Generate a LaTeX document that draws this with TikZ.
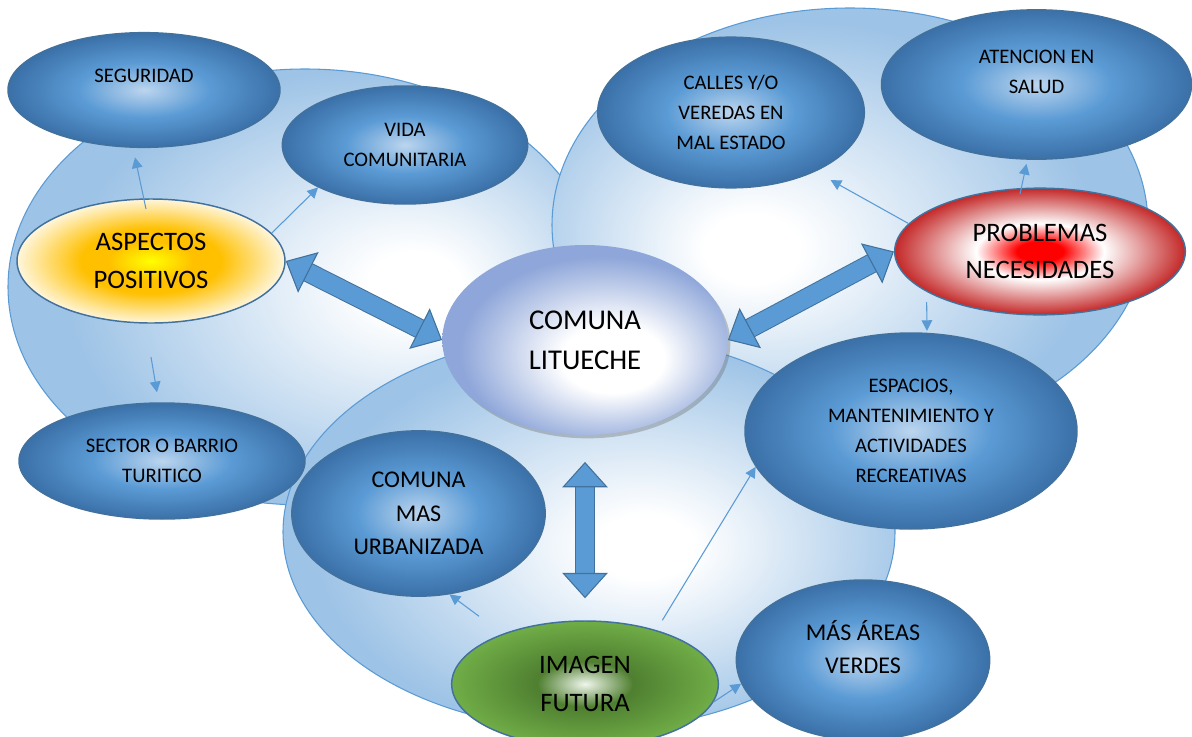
\documentclass[tikz,border=0pt]{standalone}
\usepackage{fontspec}
\setmainfont{Carlito}
\usepackage{tikz}
\usetikzlibrary{positioning, arrows.meta, shapes.geometric, shadows}

% Colores
\definecolor{cFondo}{HTML}{9DC3E6}
\definecolor{cBordeFondo}{HTML}{5B9BD5}
\definecolor{cAzul}{HTML}{5B9BD5}
\definecolor{cAzulClaro}{HTML}{BCD5EE}
\definecolor{cAzulOscuro}{HTML}{3B70A8}
\definecolor{cBorde}{HTML}{41719C}
\definecolor{cLila}{HTML}{8EA6D9}
\definecolor{cAmarillo}{HTML}{FFFF00}
\definecolor{cOro}{HTML}{FFC000}
\definecolor{cCrema}{HTML}{FFF6DC}
\definecolor{cRojo}{HTML}{FF0000}
\definecolor{cRojoBorde}{HTML}{C42828}
\definecolor{cVerde}{HTML}{70AD47}
\definecolor{cVerdeOsc}{HTML}{4F7F30}
\definecolor{cVerdeClaro}{HTML}{F0F6EC}

% Sombreados
\pgfdeclareradialshading{bolaazul}{\pgfpointorigin}{color(0bp)=(cAzulClaro); color(12bp)=(cAzul); color(25bp)=(cAzulOscuro); color(50bp)=(cAzulOscuro)}
\pgfdeclareradialshading{bolaamarilla}{\pgfpointorigin}{color(0bp)=(cAmarillo); color(8bp)=(cOro); color(13bp)=(cOro); color(25bp)=(cCrema); color(50bp)=(cCrema)}
\pgfdeclareradialshading{bolaroja}{\pgfpointorigin}{color(0bp)=(cRojo); color(4bp)=(cRojo); color(11bp)=(white); color(25bp)=(cRojoBorde); color(50bp)=(cRojoBorde)}
\pgfdeclareradialshading{bolaverde}{\pgfpointorigin}{color(0bp)=(cVerdeClaro); color(9bp)=(cVerdeOsc); color(25bp)=(cVerde); color(50bp)=(cVerde)}
\pgfdeclareradialshading{bolacomuna}{\pgfpoint{6bp}{-6bp}}{color(0bp)=(white); color(9bp)=(white); color(25bp)=(cLila); color(50bp)=(cLila)}
\pgfdeclareradialshading{fondoizq}{\pgfpoint{10bp}{0bp}}{color(0bp)=(white); color(4bp)=(white); color(25bp)=(cFondo); color(50bp)=(cFondo)}
\pgfdeclareradialshading{fondoder}{\pgfpoint{-9bp}{-3bp}}{color(0bp)=(white); color(4bp)=(white); color(25bp)=(cFondo); color(50bp)=(cFondo)}
\pgfdeclareradialshading{fondoinf}{\pgfpoint{5bp}{-2bp}}{color(0bp)=(white); color(4bp)=(white); color(25bp)=(cFondo); color(50bp)=(cFondo)}

\begin{document}
\begin{tikzpicture}[x=0.75pt, y=-0.75pt,
    fondo/.style={shade, draw=cBordeFondo, line width=0.8pt},
    burbuja/.style={ellipse, draw=cBorde, line width=1.1pt, shade, shading=bolaazul, align=center, inner sep=0pt, font=\fontsize{15.5}{22.5}\selectfont},
    medio/.style={font=\fontsize{18}{25}\selectfont},
    grande/.style={font=\fontsize{20}{28}\selectfont},
    flecha/.style={draw=cAzul, line width=0.8pt, -{Triangle[length=8pt, width=8pt]}},
    flechagrande/.style={draw=cAzul, line width=13.5pt,
        arrows={Triangle[length=19pt, width=34pt, fill=cAzul, color=cBorde, line width=0.8pt]-Triangle[length=19pt, width=34pt, fill=cAzul, color=cBorde, line width=0.8pt]},
        preaction={draw=cBorde, line width=15pt, arrows=-, shorten <=17pt, shorten >=17pt}}]

    \useasboundingbox (0,0) rectangle (1192,736);

    % Fondos
    \path[fondo, shading=fondoizq] (305,287) ellipse [x radius=297, y radius=218];
    \path[fondo, shading=fondoder] (850,225) ellipse [x radius=298, y radius=217];
    \path[fondo, shading=fondoinf] (589,532) ellipse [x radius=306, y radius=198];

    % Nodos
    \node[burbuja, minimum width=204pt, minimum height=86pt] (seg) at (144,90) {SEGURIDAD\\[-0.5pt]\mbox{}};
    \node[burbuja, minimum width=184pt, minimum height=88.5pt] (vida) at (405,145) {VIDA\\COMUNITARIA};
    \node[burbuja, grande, shading=bolaamarilla, minimum width=201pt, minimum height=93pt] (asp) at (151,261) {ASPECTOS\\POSITIVOS};
    \node[burbuja, minimum width=214.5pt, minimum height=87pt] (sector) at (162,461) {SECTOR O BARRIO\\TURITICO};
    \node[burbuja, minimum width=200pt, minimum height=113pt] (calles) at (731,112.5) {CALLES Y/O\\VEREDAS EN\\MAL ESTADO};
    \node[burbuja, minimum width=232.5pt, minimum height=112pt] (atencion) at (1036.5,84.5) {ATENCION EN\\SALUD\\[-4pt]\mbox{}};
    \node[burbuja, grande, shading=bolaroja, minimum width=218pt, minimum height=95pt] (prob) at (1040,251.5) {PROBLEMAS\\NECESIDADES};
    \node[ellipse, draw=none, shade, shading=bolacomuna, align=center, inner sep=0pt,
        font=\fontsize{21.5}{30}\selectfont, minimum width=214pt, minimum height=142.5pt,
        drop shadow={shadow xshift=2pt, shadow yshift=-2.5pt, opacity=0.35, fill=black!60}] (com) at (585,340) {COMUNA\\LITUECHE};
    \node[burbuja, minimum width=249pt, minimum height=147pt] (espacios) at (911,431) {ESPACIOS,\\MANTENIMIENTO Y\\ACTIVIDADES\\RECREATIVAS};
    \node[burbuja, medio, minimum width=190pt, minimum height=124pt] (comas) at (418.5,513.5) {COMUNA\\MAS\\URBANIZADA};
    \node[burbuja, grande, shading=bolaverde, minimum width=200pt, minimum height=94.5pt] (img) at (585,684) {IMAGEN\\FUTURA};
    \node[burbuja, medio, minimum width=190pt, minimum height=120pt] (verdes) at (863,660) {MÁS ÁREAS\\VERDES\\[-5pt]\mbox{}};

    % Flechas
    \draw[flecha] ([xshift=-3.75pt, yshift=-8pt]asp.north) -- ([xshift=-6.75pt, yshift=-7pt]seg.south);
    \draw[flecha] (asp.13) -- (vida.206);
    \draw[flecha] ([yshift=-25pt]asp.south) -- ([xshift=-3.75pt, yshift=7.5pt]sector.north);
    \draw[flecha, shorten >=13pt] (prob.168) -- (calles.325);
    \draw[flecha] ([xshift=-15pt, yshift=-5pt]prob.north) -- ([xshift=-7.5pt, yshift=-3pt]atencion.south);
    \draw[flecha] ([xshift=-85pt, yshift=10pt]prob.south) -- ([xshift=12pt, yshift=1pt]espacios.north);
    \draw[flecha] ([xshift=-79.5pt, yshift=3pt]img.north) -- (comas.291);
    \draw[flecha] ([xshift=58pt]img.north) -- (espacios.193);
    \draw[flecha] (img.352) -- (verdes.191);

    \draw[flechagrande] (asp.east) -- (com.west);
    \draw[flechagrande] (com.east) -- (prob.west);
    \draw[flechagrande] ([yshift=-20pt]com.south) -- ([yshift=16.5pt]img.north);
\end{tikzpicture}
\end{document}
